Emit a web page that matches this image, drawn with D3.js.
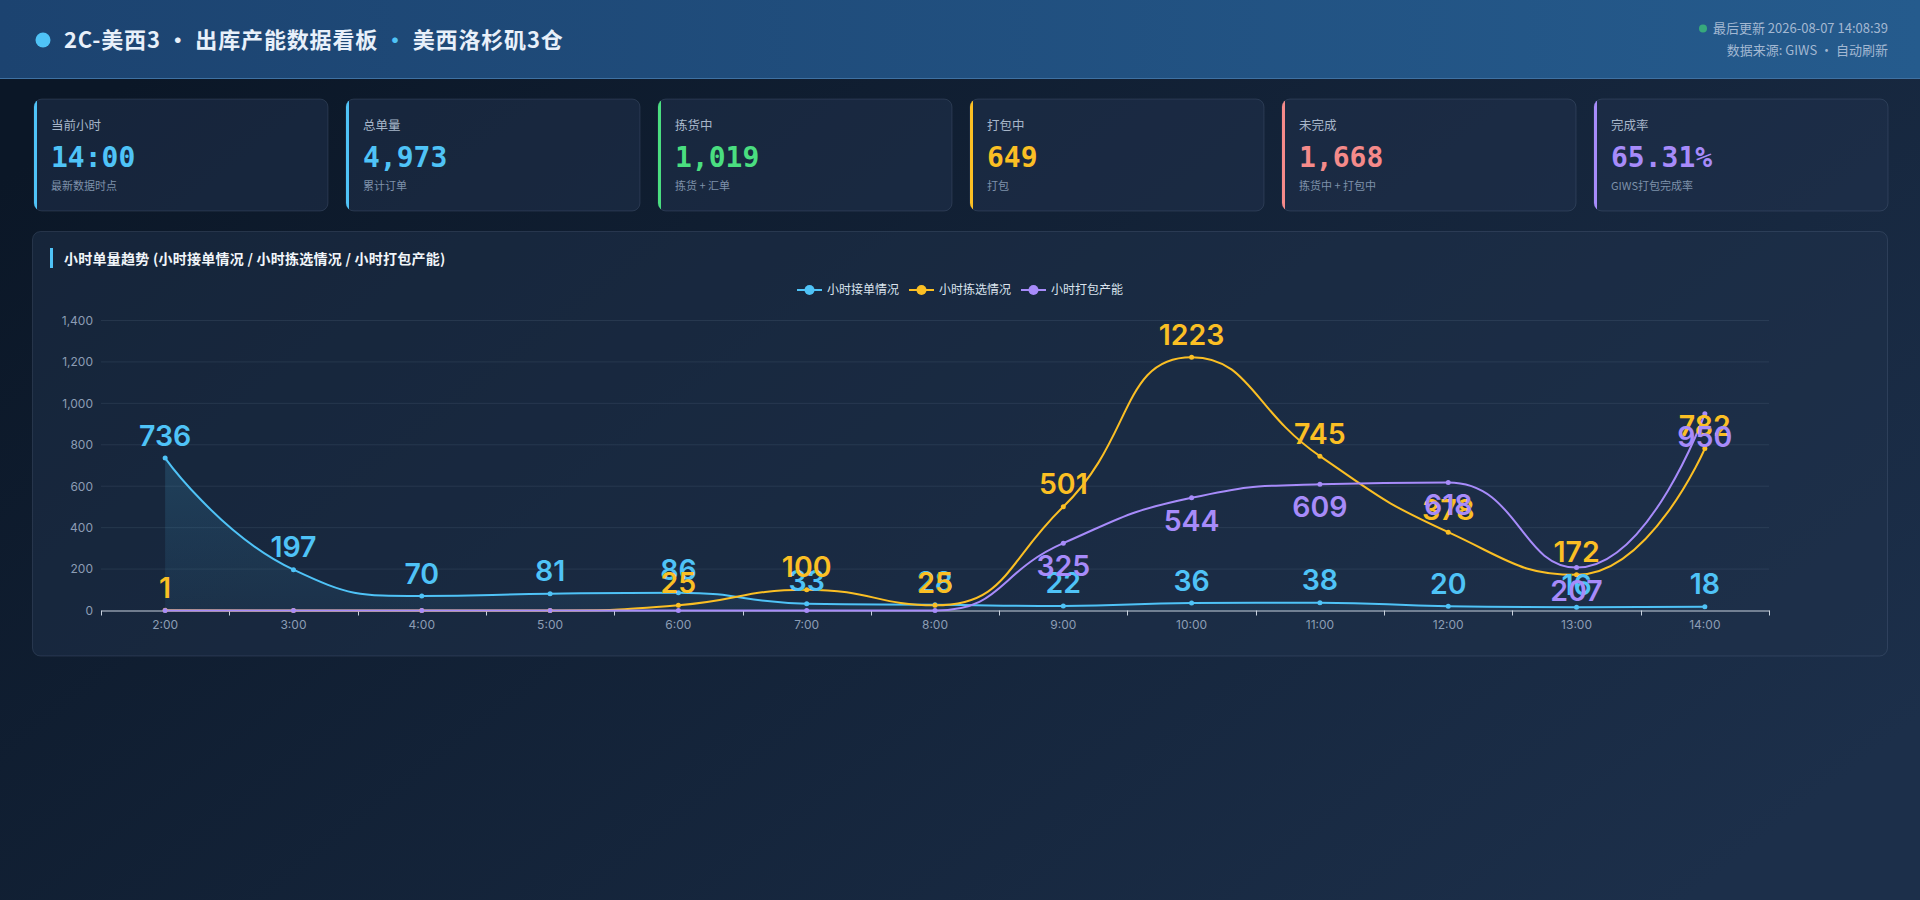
<!DOCTYPE html>
<html>
<head>
<meta charset="utf-8">
<script src="https://cdn.jsdelivr.net/npm/d3@7/dist/d3.min.js"></script>
<style>
  html, body { margin: 0; padding: 0; background: #0d1a2b; overflow: hidden; }
  svg { display: block; }
</style>
</head>
<body>
<svg id="page" width="1920" height="900"></svg>
<script>
// ---------------- DATA ----------------
const hours = ['2:00','3:00','4:00','5:00','6:00','7:00','8:00','9:00','10:00','11:00','12:00','13:00','14:00'];
const seriesNames = ['小时接单情况', '小时拣选情况', '小时打包产能'];
const ordersReceived = [736, 197, 70, 81, 86, 33, 28, 22, 36, 38, 20, 16, 18];
const ordersPicked   = [1, 0, 0, 0, 25, 100, 25, 501, 1223, 745, 378, 172, 782];
const ordersPacked   = [0, 0, 0, 0, 0, 0, 0, 325, 544, 609, 618, 207, 950];
const yTicks = [0, 200, 400, 600, 800, 1000, 1200, 1400];

const cardTitles = ['当前小时', '总单量', '拣货中', '打包中', '未完成', '完成率'];
const cardValues = ['14:00', '4,973', '1,019', '649', '1,668', '65.31%'];
const cardNotes  = ['最新数据时点', '累计订单', '拣货 + 汇单', '打包', '拣货中 + 打包中', 'GIWS打包完成率'];

const titleParts = ['2C-美西3 · 出库产能数据看板 ', '·', ' 美西洛杉矶3仓'];
const updateText = '最后更新 2026-08-07 14:08:39';
const sourceText = '数据来源: GIWS · 自动刷新';
const chartTitle = '小时单量趋势 (小时接单情况 / 小时拣选情况 / 小时打包产能)';

// ---------------- STYLE ----------------
const cardColors = ['#4fc3f7', '#4fc3f7', '#4ade80', '#fbbf24', '#f58a8a', '#a78bfa'];
const seriesColors = ['#4fc3f7', '#fbbf24', '#a78bfa'];
const labelPos = ['top', 'top', 'bottom'];
const FONT = 'Inter, "Noto Sans CJK SC", "Noto Sans", sans-serif';
const CJK = '"Noto Sans CJK SC", Inter, sans-serif';
const MONO = '"DejaVu Sans Mono", "Liberation Mono", monospace';

const svg = d3.select('#page');
const defs = svg.append('defs');

const bg = defs.append('linearGradient').attr('id', 'bgGrad')
  .attr('x1', 0).attr('y1', 0.2).attr('x2', 1).attr('y2', 0.8);
bg.append('stop').attr('offset', 0).attr('stop-color', '#0b1727');
bg.append('stop').attr('offset', 1).attr('stop-color', '#1c2f4a');

const hg = defs.append('linearGradient').attr('id', 'headGrad')
  .attr('x1', 0).attr('y1', 0).attr('x2', 1).attr('y2', 0);
hg.append('stop').attr('offset', 0).attr('stop-color', '#1c4370');
hg.append('stop').attr('offset', 1).attr('stop-color', '#255b8d');

const ag = defs.append('linearGradient').attr('id', 'areaGrad')
  .attr('x1', 0).attr('y1', 0).attr('x2', 0).attr('y2', 1);
ag.append('stop').attr('offset', 0).attr('stop-color', seriesColors[0]).attr('stop-opacity', 0.16);
ag.append('stop').attr('offset', 1).attr('stop-color', seriesColors[0]).attr('stop-opacity', 0.06);

// background
svg.append('rect').attr('width', 1920).attr('height', 900).attr('fill', 'url(#bgGrad)');

// ---------------- HEADER ----------------
svg.append('rect').attr('width', 1920).attr('height', 78).attr('fill', 'url(#headGrad)');
svg.append('line').attr('x1', 0).attr('x2', 1920).attr('y1', 78.5).attr('y2', 78.5)
  .attr('stroke', '#3f71a2').attr('stroke-width', 1);
svg.append('circle').attr('cx', 43).attr('cy', 40).attr('r', 7.5).attr('fill', '#4fc3f7');
const title = svg.append('text').attr('x', 64).attr('y', 48)
  .attr('font-family', CJK).attr('font-size', 22).attr('font-weight', 700)
  .attr('letter-spacing', 0.85).attr('fill', '#e8f0fa').attr('style', 'white-space: pre');
title.selectAll('tspan').data(titleParts).join('tspan')
  .attr('fill', (d, i) => i === 1 ? '#4fc3f7' : '#e8f0fa')
  .text(d => d);

svg.append('text').attr('x', 1888).attr('y', 33).attr('text-anchor', 'end')
  .attr('font-family', CJK).attr('font-size', 13).attr('fill', '#a3b8d2').text(updateText);
svg.append('text').attr('x', 1888).attr('y', 55).attr('text-anchor', 'end')
  .attr('font-family', CJK).attr('font-size', 13).attr('fill', '#a3b8d2').text(sourceText);
svg.append('circle').attr('cx', 1703).attr('cy', 28.5).attr('r', 4).attr('fill', '#37a97c');

// ---------------- CARDS ----------------
const cardW = 294, cardH = 112, cardY = 99, cardStep = 312, cardX0 = 34;
const cards = svg.selectAll('g.card').data(cardTitles).join('g').attr('class', 'card')
  .attr('transform', (d, i) => `translate(${cardX0 + i * cardStep},${cardY})`);
cards.each(function (d, i) {
  const g = d3.select(this);
  defs.append('clipPath').attr('id', 'cc' + i).append('rect')
    .attr('width', cardW).attr('height', cardH).attr('rx', 8);
  g.append('rect').attr('width', cardW).attr('height', cardH).attr('rx', 8)
    .attr('fill', 'rgba(32,50,76,0.55)').attr('stroke', 'rgba(148,170,200,0.16)');
  g.append('rect').attr('width', 3).attr('height', cardH).attr('fill', cardColors[i])
    .attr('clip-path', `url(#cc${i})`);
  g.append('text').attr('x', 17).attr('y', 30.5).attr('font-family', CJK).attr('font-size', 12.5)
    .attr('fill', '#a7b6c9').text(cardTitles[i]);
  g.append('text').attr('x', 17).attr('y', 68).attr('font-family', MONO).attr('font-size', 28)
    .attr('font-weight', 700).attr('fill', cardColors[i]).text(cardValues[i]);
  g.append('text').attr('x', 17).attr('y', 91).attr('font-family', CJK).attr('font-size', 11)
    .attr('fill', '#7e91aa').text(cardNotes[i]);
});

// ---------------- CHART PANEL ----------------
svg.append('rect').attr('x', 32.5).attr('y', 231.5).attr('width', 1855).attr('height', 424.5).attr('rx', 8)
  .attr('fill', 'rgba(32,50,76,0.5)').attr('stroke', 'rgba(148,170,200,0.16)');
svg.append('rect').attr('x', 50).attr('y', 248).attr('width', 3).attr('height', 20).attr('fill', '#4fc3f7');
svg.append('text').attr('x', 64).attr('y', 263.5).attr('font-family', CJK).attr('font-size', 14)
  .attr('font-weight', 700).attr('letter-spacing', 0.25).attr('fill', '#f1f5f9').attr('style', 'white-space: pre')
  .text(chartTitle);

// legend
const legendItemW = 25 + 5 + 72;
const legendGap = 10;
const legendTotal = seriesNames.length * legendItemW + (seriesNames.length - 1) * legendGap;
const legendX0 = 960 - legendTotal / 2;
const legend = svg.selectAll('g.leg').data(seriesNames).join('g').attr('class', 'leg')
  .attr('transform', (d, i) => `translate(${legendX0 + i * (legendItemW + legendGap)},290)`);
legend.append('line').attr('x1', 0).attr('x2', 25).attr('y1', 0).attr('y2', 0)
  .attr('stroke', (d, i) => seriesColors[i]).attr('stroke-width', 2);
legend.append('circle').attr('cx', 12.5).attr('cy', 0).attr('r', 5).attr('fill', (d, i) => seriesColors[i]);
legend.append('text').attr('x', 30).attr('y', 4.3).attr('font-family', CJK).attr('font-size', 12)
  .attr('fill', '#dbe4ee').text(d => d);

// scales
const x = d3.scaleBand().domain(hours).range([101, 1769]);
const y = d3.scaleLinear().domain([0, 1400]).range([610.5, 320.5]);
const cx = h => x(h) + x.bandwidth() / 2;

// grid
svg.append('g').selectAll('line').data(yTicks.filter(t => t > 0)).join('line')
  .attr('x1', 101).attr('x2', 1769).attr('y1', d => y(d)).attr('y2', d => y(d))
  .attr('stroke', 'rgba(148,170,200,0.12)').attr('stroke-width', 1);

// y axis labels
const yAxis = d3.axisLeft(y).tickValues(yTicks).tickFormat(d3.format(',')).tickSize(0).tickPadding(8);
const yg = svg.append('g').attr('transform', 'translate(101,0)').call(yAxis);
yg.select('.domain').remove();
yg.selectAll('text').attr('font-family', FONT).attr('font-size', 12).attr('fill', '#8c9db4');

// x axis
const xAxis = d3.axisBottom(x).tickSize(0).tickPadding(10);
const xg = svg.append('g').attr('transform', 'translate(0,610.5)').call(xAxis);
xg.select('.domain').attr('stroke', '#c9d2de').attr('stroke-width', 1);
xg.selectAll('text').attr('font-family', FONT).attr('font-size', 12).attr('fill', '#8c9db4');
const bounds = hours.map(h => x(h)).concat([x.range()[1]]);
xg.append('g').selectAll('line').data(bounds).join('line')
  .attr('x1', d => Math.round(d) + 0.5).attr('x2', d => Math.round(d) + 0.5).attr('y1', 0).attr('y2', 5)
  .attr('stroke', '#c9d2de');

// ECharts-like smooth curve
function smoothPath(pts, smooth, ctx) {
  let cpx0, cpy0, prevX, prevY;
  for (let i = 0; i < pts.length; i++) {
    const px = pts[i][0], py = pts[i][1];
    if (i === 0) { ctx.moveTo(px, py); cpx0 = px; cpy0 = py; }
    else {
      let cpx1, cpy1, ncx, ncy;
      if (i === pts.length - 1) { cpx1 = px; cpy1 = py; }
      else {
        const nx = pts[i + 1][0], ny = pts[i + 1][1];
        let vx = nx - prevX, vy = ny - prevY;
        const l0 = Math.hypot(px - prevX, py - prevY);
        const l1 = Math.hypot(nx - px, ny - py);
        const r = l1 / (l1 + l0);
        ncx = px + vx * smooth * r; ncy = py + vy * smooth * r;
        ncx = Math.min(ncx, Math.max(nx, px)); ncy = Math.min(ncy, Math.max(ny, py));
        ncx = Math.max(ncx, Math.min(nx, px)); ncy = Math.max(ncy, Math.min(ny, py));
        vx = ncx - px; vy = ncy - py;
        cpx1 = px - vx * l0 / l1; cpy1 = py - vy * l0 / l1;
        cpx1 = Math.min(cpx1, Math.max(prevX, px)); cpy1 = Math.min(cpy1, Math.max(prevY, py));
        cpx1 = Math.max(cpx1, Math.min(prevX, px)); cpy1 = Math.max(cpy1, Math.min(prevY, py));
        vx = px - cpx1; vy = py - cpy1;
        ncx = px + vx * l1 / l0; ncy = py + vy * l1 / l0;
      }
      ctx.bezierCurveTo(cpx0, cpy0, cpx1, cpy1, px, py);
      cpx0 = ncx; cpy0 = ncy;
    }
    prevX = px; prevY = py;
  }
  return ctx;
}

const allSeries = [ordersReceived, ordersPicked, ordersPacked];
const plot = svg.append('g');
const ptsOf = vals => vals.map((v, i) => [cx(hours[i]), y(v)]);

// area under first series
{
  const pts = ptsOf(ordersReceived);
  const p = smoothPath(pts, 0.5, d3.path());
  p.lineTo(pts[pts.length - 1][0], y(0));
  p.lineTo(pts[0][0], y(0));
  p.closePath();
  plot.append('path').attr('d', p.toString()).attr('fill', 'url(#areaGrad)');
}
allSeries.forEach((vals, s) => {
  const pts = ptsOf(vals);
  plot.append('path').attr('d', smoothPath(pts, 0.5, d3.path()).toString())
    .attr('fill', 'none').attr('stroke', seriesColors[s]).attr('stroke-width', 2);
});
allSeries.forEach((vals, s) => {
  plot.append('g').selectAll('circle').data(vals).join('circle')
    .attr('cx', (d, i) => cx(hours[i])).attr('cy', d => y(d)).attr('r', 2.5)
    .attr('fill', seriesColors[s]);
});
// labels
allSeries.forEach((vals, s) => {
  plot.append('g').selectAll('text').data(vals.map((v, i) => ({ v, i })).filter(d => d.v !== 0)).join('text')
    .attr('x', d => cx(hours[d.i]))
    .attr('y', d => labelPos[s] === 'top' ? y(d.v) - 12.5 : y(d.v) + 33)
    .attr('text-anchor', 'middle').attr('font-family', FONT).attr('font-size', 28.5).attr('font-weight', 600)
    .attr('fill', seriesColors[s]).text(d => d.v);
});
</script>
</body>
</html>
